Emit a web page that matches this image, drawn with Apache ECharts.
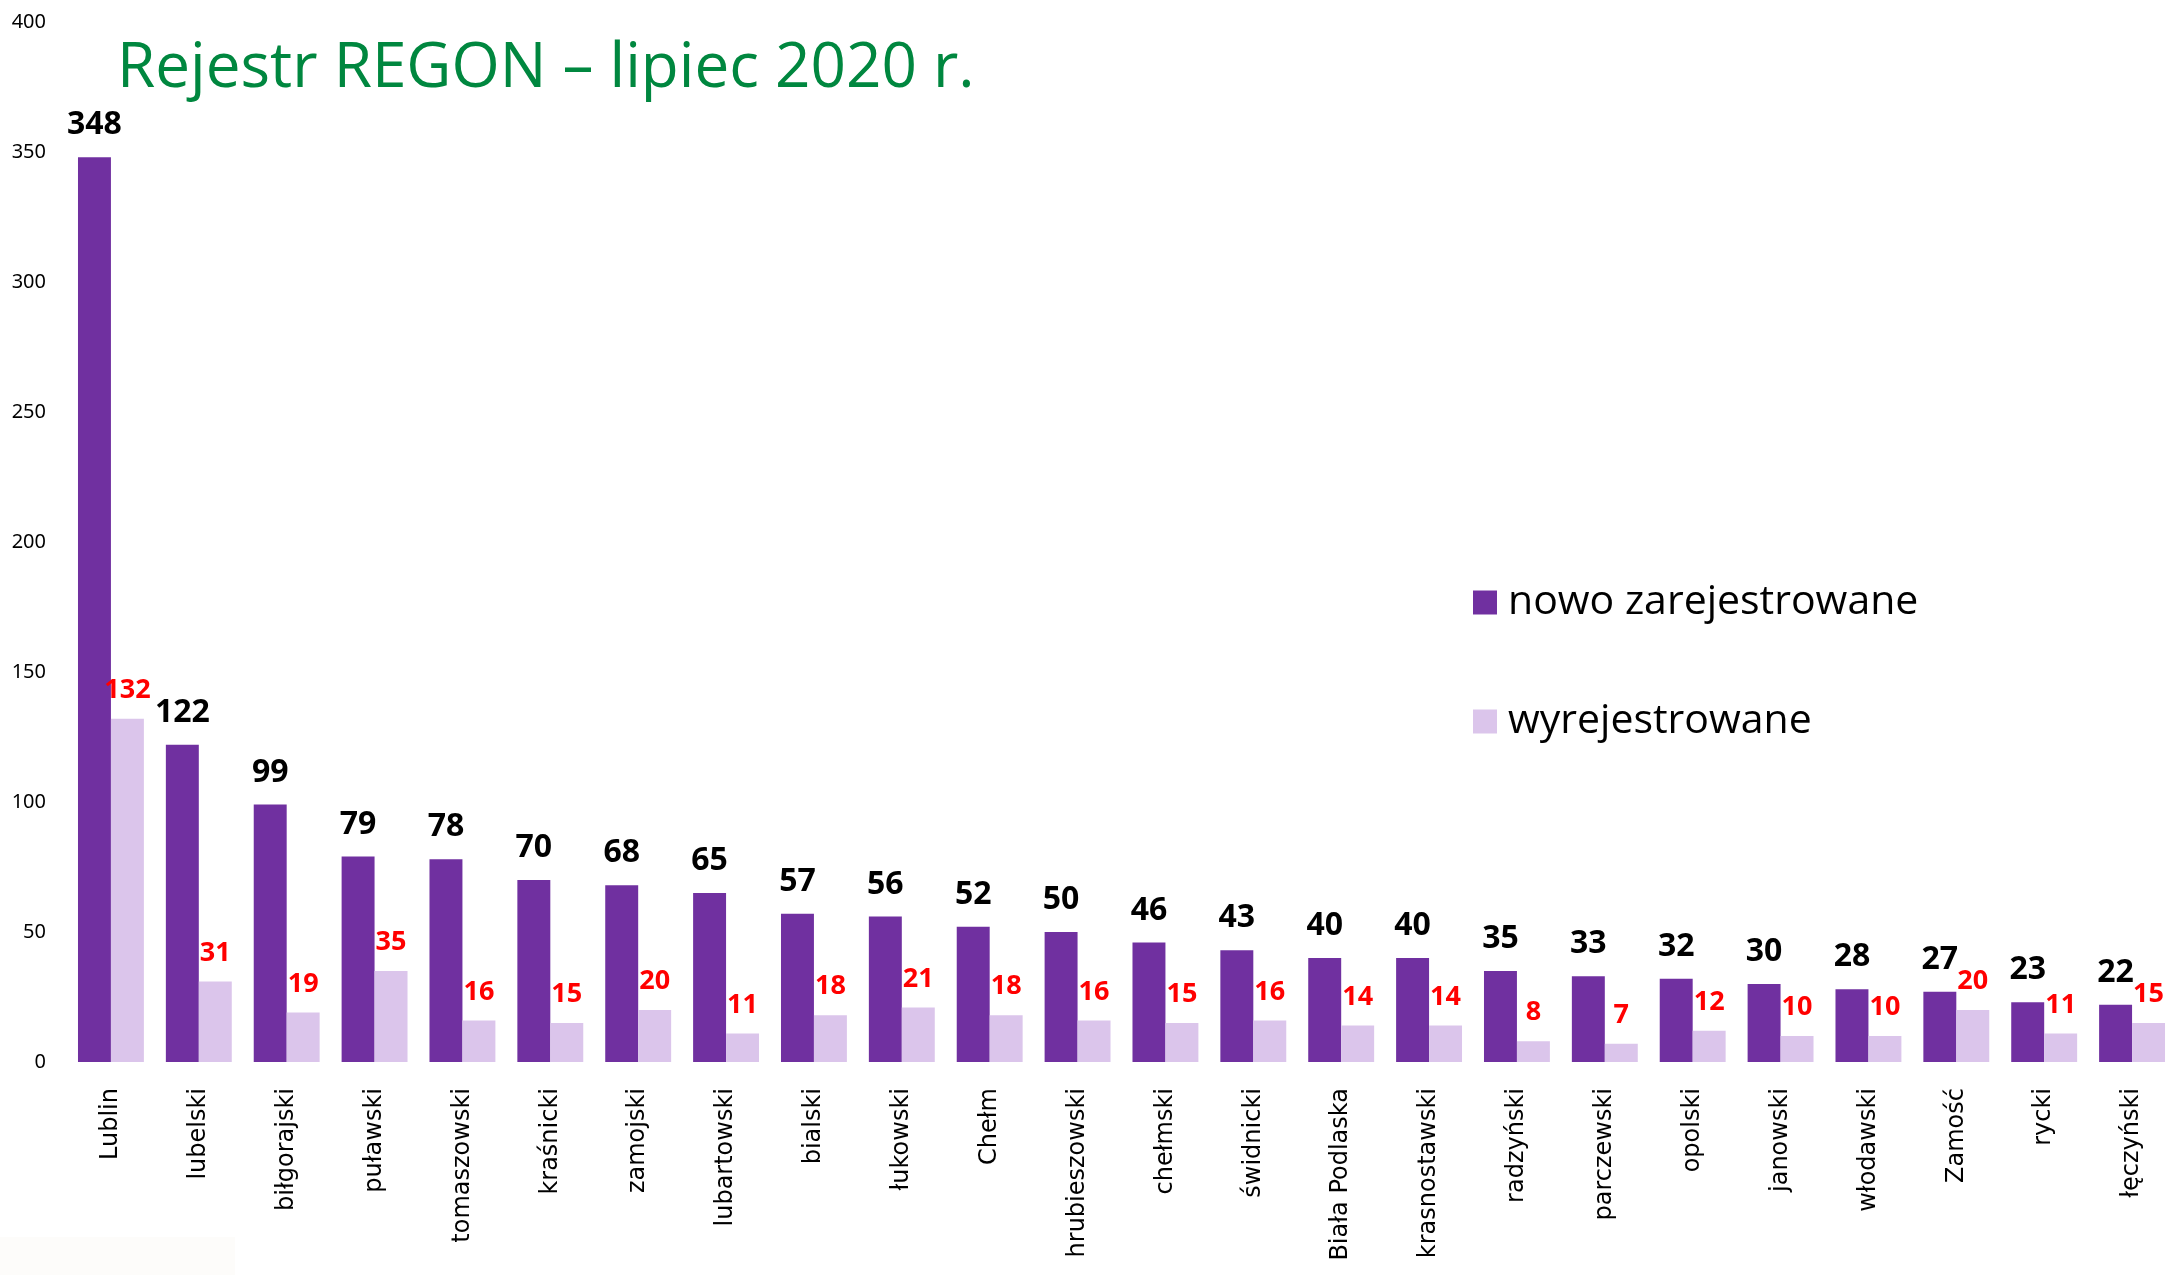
<!DOCTYPE html>
<html>
    <head>
        <meta charset="utf-8">
        <title>
            Rejestr REGON
        </title>
        <script src="https://cdn.jsdelivr.net/npm/echarts@6/dist/echarts.min.js"></script>
        <style>
            body { margin: 0; background: #fff; }
        </style>
    </head>

    <body>
    <div id="main" style="width: 2184px; height: 1275px;"></div>
    <script type="text/javascript">

var powiaty = ['Lublin', 'lubelski', 'biłgorajski', 'puławski', 'tomaszowski', 'kraśnicki',
  'zamojski', 'lubartowski', 'bialski', 'łukowski', 'Chełm', 'hrubieszowski', 'chełmski',
  'świdnicki', 'Biała Podlaska', 'krasnostawski', 'radzyński', 'parczewski', 'opolski',
  'janowski', 'włodawski', 'Zamość', 'rycki', 'łęczyński'];
var nowoZarejestrowane = [348, 122, 99, 79, 78, 70, 68, 65, 57, 56, 52, 50, 46, 43, 40, 40, 35, 33, 32, 30, 28, 27, 23, 22];
var wyrejestrowane = [132, 31, 19, 35, 16, 15, 20, 11, 18, 21, 18, 16, 15, 16, 14, 14, 8, 7, 12, 10, 10, 20, 11, 15];
var yTicks = [0, 50, 100, 150, 200, 250, 300, 350, 400];

var chartDom = document.getElementById('main');
var myChart = echarts.init(chartDom);
var option;

option = {
  backgroundColor: '#ffffff',
  animation: false,
  title: {
    text: 'Rejestr REGON – lipiec 2020 r.',
    left: 112,
    top: 33,
    textStyle: {
      color: '#00873f',
      fontFamily: 'Open Sans',
      fontWeight: 'normal',
      fontSize: 62
    }
  },
  legend: {
    orient: 'vertical',
    left: 1468,
    top: 577,
    itemWidth: 24,
    itemHeight: 24,
    itemGap: 78,
    icon: 'rect',
    textStyle: {
      color: '#000',
      fontFamily: 'Open Sans',
      fontSize: 41,
      padding: [0, 0, 0, 6]
    }
  },
  grid: {
    left: 67,
    right: 8,
    top: 22,
    bottom: 213
  },
  xAxis: {
    type: 'category',
    data: powiaty,
    axisLine: { show: false },
    axisTick: { show: false },
    axisLabel: {
      rotate: 90,
      margin: 26,
      interval: 0,
      color: '#000',
      fontFamily: 'DejaVu Sans',
      fontSize: 24
    }
  },
  yAxis: {
    type: 'value',
    min: yTicks[0],
    max: yTicks[yTicks.length - 1],
    interval: 50,
    axisLine: { show: false },
    axisTick: { show: false },
    splitLine: { show: false },
    axisLabel: {
      margin: 21,
      color: '#000',
      fontFamily: 'Noto Sans',
      fontSize: 20
    }
  },
  series: [
    {
      name: 'nowo zarejestrowane',
      type: 'bar',
      data: nowoZarejestrowane,
      barGap: '0%',
      barCategoryGap: '25%',
      itemStyle: { color: '#7030a0' },
      label: {
        show: true,
        position: 'top',
        distance: 16,
        color: '#000',
        fontFamily: 'Open Sans',
        fontWeight: 'bold',
        fontSize: 32
      }
    },
    {
      name: 'wyrejestrowane',
      type: 'bar',
      data: wyrejestrowane,
      barGap: '0%',
      barCategoryGap: '25%',
      itemStyle: { color: '#dbc5eb' },
      label: {
        show: true,
        position: 'top',
        distance: 15,
        color: '#ff0000',
        fontFamily: 'Open Sans',
        fontWeight: 'bold',
        fontSize: 27
      }
    }
  ],
  graphic: [
    {
      type: 'rect',
      left: 0,
      top: 1237,
      z: -1,
      shape: { width: 235, height: 38 },
      style: { fill: '#fdfcfa' }
    }
  ]
};

option && myChart.setOption(option);
    </script>
    </body>
</html>
